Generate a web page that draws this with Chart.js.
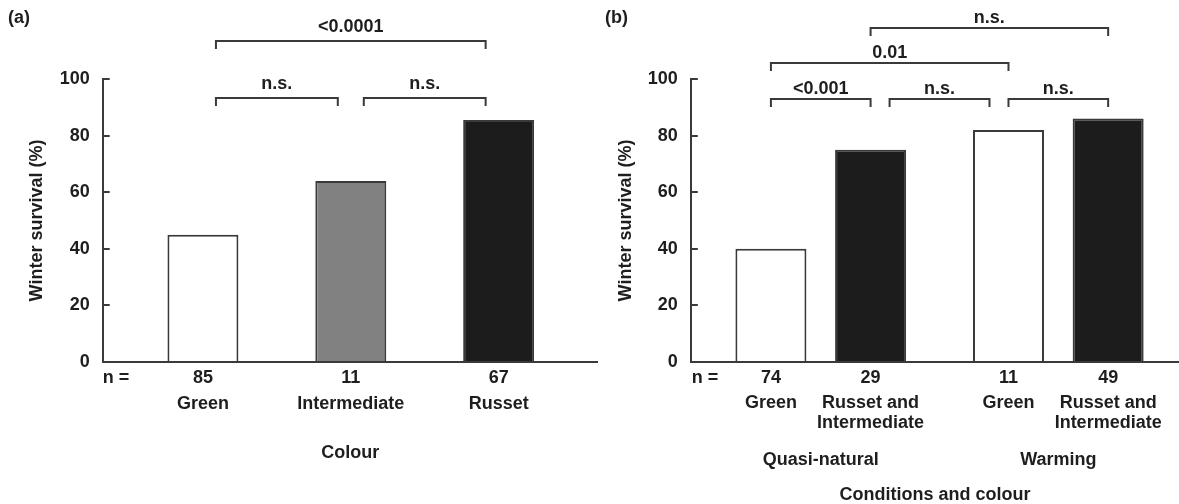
<!DOCTYPE html>
<html>
<head>
<meta charset="utf-8">
<script src="https://cdn.jsdelivr.net/npm/chart.js@4/dist/chart.umd.min.js"></script>
<style>
  html, body { margin: 0; padding: 0; background: #fff; }
  #wrap { position: relative; width: 1179px; height: 504px; overflow: hidden; }
  canvas { position: absolute; top: 0; }
  #ca { left: 0; }
  #cb { left: 598px; }
</style>
</head>
<body>
<div id="wrap">
  <canvas id="ca" width="598" height="504"></canvas>
  <canvas id="cb" width="581" height="504"></canvas>
</div>
<script>
// ---------- data ----------
const yTicks = [0, 20, 40, 60, 80, 100];

// Panel (a): colour
const colourCategories = ['Green', 'Intermediate', 'Russet'];
const colourSurvival = [45, 64, 85.5];
const colourN = [85, 11, 67];
const colourPvalues = ['<0.0001', 'n.s.', 'n.s.'];

// Panel (b): conditions and colour
const conditions = ['Quasi-natural', 'Warming'];
const colourGroups = [['Green'], ['Russet and', 'Intermediate']];
const greenSurvival = [40, 82];
const russetIntSurvival = [75, 86];
const greenN = [74, 11];
const russetIntN = [29, 49];
const conditionPvalues = ['<0.001', 'n.s.', 'n.s.', '0.01', 'n.s.'];

// ---------- styles ----------
const FONT = { family: "'Liberation Sans', Arial, sans-serif", size: 18, weight: 'bold' };
const FONT_CSS = "bold 18px 'Liberation Sans', Arial, sans-serif";
const TEXT = '#1e1e1e';
const AXIS = '#3a3a3a';
const LINE_W = 2;

// bracket annotations (pairs of bars, level in axis units)
const bracketsA = [
  { from: 0, to: 2, level: 113.4, text: colourPvalues[0], inset: 13 },
  { from: 0, to: 1, level: 93.2, text: colourPvalues[1], inset: 13 },
  { from: 1, to: 2, level: 93.2, text: colourPvalues[2], inset: 13 }
];
const bracketsB = [
  { from: 0, to: 1, level: 93.0, text: conditionPvalues[0], inset: 0 },
  { from: 1, to: 2, level: 93.0, text: conditionPvalues[1], inset: 19 },
  { from: 2, to: 3, level: 93.0, text: conditionPvalues[2], inset: 0 },
  { from: 0, to: 2, level: 105.5, text: conditionPvalues[3], inset: 0 },
  { from: 1, to: 3, level: 117.9, text: conditionPvalues[4], inset: 0 }
];

function drawBrackets(ctx, yScale, xs, list, gap) {
  ctx.save();
  ctx.strokeStyle = AXIS;
  ctx.lineWidth = LINE_W;
  ctx.fillStyle = TEXT;
  ctx.font = FONT_CSS;
  ctx.textAlign = 'center';
  ctx.textBaseline = 'alphabetic';
  list.forEach(b => {
    const x1 = xs[b.from] + b.inset;
    const x2 = xs[b.to] - b.inset;
    const y = Math.round(yScale.getPixelForValue(b.level)) + 0.0;
    ctx.beginPath();
    ctx.moveTo(x1, y + 8);
    ctx.lineTo(x1, y);
    ctx.lineTo(x2, y);
    ctx.lineTo(x2, y + 8);
    ctx.stroke();
    ctx.fillText(b.text, (x1 + x2) / 2, y - gap);
  });
  ctx.restore();
}

function yScaleOptions(axisWidth, titlePad) {
  return {
    min: 0, max: 100,
    afterBuildTicks: s => { s.ticks = yTicks.map(v => ({ value: v })); },
    ticks: { font: FONT, color: TEXT, padding: 20 },
    grid: { drawOnChartArea: false, drawTicks: true, tickLength: -7, lineWidth: LINE_W, color: AXIS },
    border: { display: true, color: AXIS, width: LINE_W },
    afterFit: s => { s.width = axisWidth; },
    title: { display: true, text: 'Winter survival (%)', font: FONT, color: TEXT, padding: { top: titlePad, bottom: 0 } }
  };
}

function xScaleOptions(min, max, cats, title, titlePadBottom) {
  return {
    type: 'linear', min: min, max: max, offset: false,
    afterBuildTicks: s => { s.ticks = cats.map((_, i) => ({ value: i })); },
    ticks: { display: false },
    grid: { display: true, drawOnChartArea: false, drawTicks: false, offset: false, color: AXIS, lineWidth: 0 },
    border: { display: true, color: AXIS, width: LINE_W },
    afterFit: s => { s.height = 142; },
    title: { display: true, text: title, font: FONT, color: TEXT, padding: { top: 0, bottom: titlePadBottom } }
  };
}

// ---------- panel (a) ----------
const labelsA = {
  id: 'labelsA',
  afterDraw(chart) {
    const ctx = chart.ctx;
    const meta = chart.getDatasetMeta(0);
    const xs = meta.data.map(b => b.x);
    ctx.save();
    ctx.fillStyle = TEXT;
    ctx.font = FONT_CSS;
    ctx.textBaseline = 'middle';
    ctx.textAlign = 'left';
    ctx.fillText('(a)', 8, 18);
    ctx.fillText('n =', chart.chartArea.left, 378);
    ctx.textAlign = 'center';
    xs.forEach((x, i) => {
      ctx.fillText(String(colourN[i]), x, 378);
      ctx.fillText(colourCategories[i], x, 404);
    });
    ctx.restore();
    drawBrackets(ctx, chart.scales.y, xs, bracketsA, 9);
  }
};

new Chart(document.getElementById('ca'), {
  type: 'bar',
  data: {
    datasets: [{
      label: 'Winter survival',
      data: colourSurvival.map((v, i) => ({ x: i, y: v })),
      backgroundColor: ['#ffffff', '#818181', '#1c1c1c'],
      borderColor: AXIS,
      borderWidth: 2,
      categoryPercentage: 0.48,
      barPercentage: 1
    }]
  },
  options: {
    responsive: false, animation: false, devicePixelRatio: 1,
    layout: { padding: { top: 79, left: 0, right: 0, bottom: 0 } },
    plugins: { legend: { display: false }, tooltip: { enabled: false } },
    scales: {
      x: xScaleOptions(-0.678, 2.672, colourCategories, 'Colour', 40),
      y: yScaleOptions(102.7, 26)
    }
  },
  plugins: [labelsA]
});

// ---------- panel (b) ----------
const labelsB = {
  id: 'labelsB',
  afterDraw(chart) {
    const ctx = chart.ctx;
    const m0 = chart.getDatasetMeta(0), m1 = chart.getDatasetMeta(1);
    const xs = [], ns = [], names = [];
    conditions.forEach((c, g) => {
      xs.push(m0.data[g].x); ns.push(greenN[g]); names.push(colourGroups[0]);
      xs.push(m1.data[g].x); ns.push(russetIntN[g]); names.push(colourGroups[1]);
    });
    ctx.save();
    ctx.fillStyle = TEXT;
    ctx.font = FONT_CSS;
    ctx.textBaseline = 'middle';
    ctx.textAlign = 'left';
    ctx.fillText('(b)', 7, 18);
    ctx.fillText('n =', chart.chartArea.left + 1, 378);
    ctx.textAlign = 'center';
    xs.forEach((x, i) => {
      ctx.fillText(String(ns[i]), x, 378);
      names[i].forEach((line, k) => ctx.fillText(line, x, 403.5 + k * 20));
    });
    conditions.forEach((c, g) => {
      ctx.fillText(c, chart.scales.x.getPixelForValue(g), 460);
    });
    ctx.restore();
    drawBrackets(ctx, chart.scales.y, xs, bracketsB, 5.5);
  }
};

new Chart(document.getElementById('cb'), {
  type: 'bar',
  data: {
    datasets: [
      {
        label: 'Green',
        data: greenSurvival.map((v, i) => ({ x: i, y: v })),
        backgroundColor: '#ffffff',
        borderColor: AXIS, borderWidth: 2,
        categoryPercentage: 0.839, barPercentage: 0.7125
      },
      {
        label: 'Russet and Intermediate',
        data: russetIntSurvival.map((v, i) => ({ x: i, y: v })),
        backgroundColor: '#1c1c1c',
        borderColor: AXIS, borderWidth: 2,
        categoryPercentage: 0.839, barPercentage: 0.7125
      }
    ]
  },
  options: {
    responsive: false, animation: false, devicePixelRatio: 1,
    layout: { padding: { top: 79, left: 0, right: 0, bottom: 0 } },
    plugins: { legend: { display: false }, tooltip: { enabled: false } },
    scales: {
      x: xScaleOptions(-0.547, 1.508, conditions, 'Conditions and colour', -2),
      y: yScaleOptions(92.8, 17.2)
    }
  },
  plugins: [labelsB]
});
</script>
</body>
</html>
